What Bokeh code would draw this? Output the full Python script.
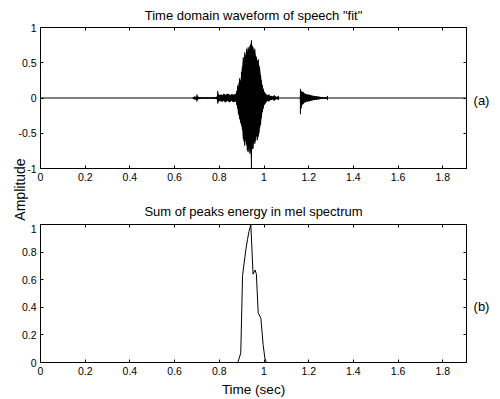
import numpy as np
from bokeh.plotting import figure
from bokeh.models import Range1d, LinearAxis, FixedTicker, Label, Span, ColumnDataSource
from bokeh.layouts import column
from bokeh.embed import file_html
from bokeh.resources import INLINE

FONT = "Liberation Sans"

# ---------------- data ----------------
t_max = 1.906
x_ticks = [0, 0.2, 0.4, 0.6, 0.8, 1.0, 1.2, 1.4, 1.6, 1.8]
x_tick_labels = ["0", "0.2", "0.4", "0.6", "0.8", "1", "1.2", "1.4", "1.6", "1.8"]
wave_y_ticks = [-1, -0.5, 0, 0.5, 1]
wave_y_tick_labels = ["-1", "-0.5", "0", "0.5", "1"]
energy_y_ticks = [0, 0.2, 0.4, 0.6, 0.8, 1]
energy_y_tick_labels = ["0", "0.2", "0.4", "0.6", "0.8", "1"]

# waveform envelope (time in s, upper / lower amplitude)
env_t = [0.000, 0.680, 0.684, 0.690, 0.696, 0.700, 0.703, 0.710, 0.718, 0.730,
         0.745, 0.760, 0.775, 0.786, 0.790, 0.793, 0.797, 0.802, 0.808, 0.814,
         0.820, 0.826, 0.832, 0.838, 0.844, 0.850, 0.856, 0.862, 0.868, 0.874,
         0.878, 0.882, 0.885, 0.888, 0.891, 0.895, 0.899, 0.903, 0.907, 0.911,
         0.914, 0.918, 0.922, 0.925, 0.929, 0.933, 0.937, 0.940, 0.9435, 0.947,
         0.951, 0.955, 0.959, 0.963, 0.966, 0.970, 0.974, 0.978, 0.981, 0.985,
         0.989, 0.993, 0.997, 1.001, 1.005, 1.010, 1.016, 1.022, 1.028, 1.034,
         1.040, 1.046, 1.052, 1.058, 1.064, 1.068, 1.160, 1.163, 1.166, 1.170,
         1.176, 1.184, 1.194, 1.204, 1.214, 1.224, 1.234, 1.244, 1.254, 1.264,
         1.274, 1.280, 1.284, 1.287, 1.906]
env_hi = [0, 0, 0.015, 0.02, 0.015, 0.05, 0.02, 0.015, 0.012, 0.01,
          0.012, 0.01, 0.012, 0.015, 0.02, 0.10, 0.05, 0.04, 0.05, 0.04,
          0.06, 0.045, 0.05, 0.06, 0.05, 0.04, 0.055, 0.045, 0.05, 0.06,
          0.10, 0.18, 0.15, 0.22, 0.28, 0.24, 0.37, 0.45, 0.58, 0.52,
          0.65, 0.60, 0.70, 0.66, 0.72, 0.68, 0.74, 0.76, 0.82, 0.74,
          0.72, 0.66, 0.70, 0.60, 0.58, 0.52, 0.55, 0.46, 0.42, 0.33,
          0.25, 0.18, 0.13, 0.09, 0.07, 0.05, 0.04, 0.05, 0.03, 0.03,
          0.02, 0.04, 0.02, 0.015, 0.03, 0, 0, 0.13, 0.10, 0.09,
          0.08, 0.06, 0.05, 0.045, 0.035, 0.03, 0.025, 0.02, 0.015, 0.012,
          0.01, 0.01, 0.03, 0, 0]
env_lo = [0, 0, -0.015, -0.02, -0.02, -0.05, -0.02, -0.015, -0.012, -0.01,
          -0.012, -0.01, -0.012, -0.015, -0.02, -0.08, -0.05, -0.04, -0.05, -0.05,
          -0.04, -0.06, -0.05, -0.04, -0.06, -0.05, -0.04, -0.06, -0.05, -0.05,
          -0.10, -0.15, -0.22, -0.25, -0.30, -0.35, -0.39, -0.45, -0.58, -0.62,
          -0.68, -0.60, -0.66, -0.74, -0.77, -0.70, -0.79, -0.75, -1.0, -0.72,
          -0.72, -0.62, -0.65, -0.60, -0.53, -0.60, -0.55, -0.50, -0.42, -0.38,
          -0.28, -0.20, -0.15, -0.10, -0.08, -0.06, -0.04, -0.05, -0.03, -0.03,
          -0.02, -0.04, -0.02, -0.015, -0.03, 0, 0, -0.23, -0.15, -0.10,
          -0.08, -0.06, -0.05, -0.045, -0.035, -0.03, -0.025, -0.02, -0.015, -0.012,
          -0.01, -0.01, -0.03, 0, 0]

# sum of peaks energy in mel spectrum
energy_t = [0.0, 0.882, 0.889, 0.896, 0.904, 0.911, 0.919, 0.926, 0.933, 0.941,
            0.951, 0.960, 0.966, 0.974, 0.986, 0.996, 1.004, 1.011, 1.906]
energy_v = [0.0, 0.0, 0.03, 0.07, 0.63, 0.72, 0.82, 0.89, 0.95, 1.0,
            0.64, 0.67, 0.64, 0.36, 0.32, 0.13, 0.03, 0.0, 0.0]

# ---------------- helpers ----------------
def style(p, yticks, ylabels, standoff):
    p.grid.visible = False
    p.outline_line_color = "black"
    p.outline_line_width = 1
    p.background_fill_color = "white"
    p.border_fill_color = "white"
    xa, ya = p.below[0], p.left[0]
    for ax, ticks, labels in ((xa, x_ticks, x_tick_labels), (ya, yticks, ylabels)):
        ax.ticker = FixedTicker(ticks=ticks)
        ax.major_label_overrides = {float(k): v for k, v in zip(ticks, labels)}
        ax.major_tick_in = 3
        ax.major_tick_out = 0
        ax.minor_tick_line_color = None
        ax.axis_line_color = "black"
        ax.major_tick_line_color = "black"
        ax.major_label_text_font = FONT
        ax.major_label_text_font_size = "10.5px"
        ax.major_label_text_color = "black"
        ax.major_label_standoff = 4
    xa.major_label_standoff = standoff
    # tick marks on the top and right sides of the box (no labels there)
    for loc, ticks in (("above", x_ticks), ("right", yticks)):
        ax = LinearAxis(ticker=FixedTicker(ticks=ticks), major_tick_in=3, major_tick_out=0,
                        minor_tick_line_color=None, axis_line_color="black",
                        major_tick_line_color="black", major_label_text_font_size="0px",
                        major_label_text_color=None, major_label_standoff=0)
        p.add_layout(ax, loc)
    return xa


def text(p, side, x, y, s, size="13px", align="center", angle=0.0):
    p.add_layout(Label(x=x, y=y, x_units="screen", y_units="screen", text=s,
                       text_font=FONT, text_font_size=size, text_color="black",
                       text_align=align, text_baseline="middle", angle=angle), side)

# ---------------- (a) waveform ----------------
pa = figure(width=500, height=224, min_border_left=40, min_border_right=34,
            min_border_top=27, min_border_bottom=56, x_range=Range1d(0, t_max),
            y_range=Range1d(-1, 1), toolbar_location=None, output_backend="svg", title=None)
style(pa, wave_y_ticks, wave_y_tick_labels, 4)
src = ColumnDataSource(dict(t=env_t, hi=env_hi, lo=env_lo))
pa.add_layout(Span(location=0, dimension="width", line_color="black", line_width=1))
pa.varea(x="t", y1="lo", y2="hi", source=src, fill_color="black")
pa.segment(x0="t", y0="lo", x1="t", y1="hi", source=src, line_color="black", line_width=1)

text(pa, "above", 213, 12.3, 'Time domain waveform of speech "fit"')
text(pa, "below", 213, -12.5, "Sum of peaks energy in mel spectrum")
text(pa, "below", 441, 113, "(a)")
text(pa, "right", -447, -21, "Amplitude", size="14px", angle=np.pi / 2)

# ---------------- (b) energy ----------------
pb = figure(width=500, height=175, min_border_left=40, min_border_right=34,
            min_border_top=0, min_border_bottom=35, x_range=Range1d(0, t_max),
            y_range=Range1d(0, 1), toolbar_location=None, output_backend="svg", title=None)
xb = style(pb, energy_y_ticks, energy_y_tick_labels, 4)
pb.line(energy_t, energy_v, line_color="black", line_width=1)
xb.axis_label = "Time (sec)"
xb.axis_label_text_font = FONT
xb.axis_label_text_font_size = "13.5px"
xb.axis_label_text_font_style = "normal"
xb.axis_label_text_color = "black"
xb.axis_label_standoff = 4
text(pb, "right", 15, 56.5, "(b)")

layout = column(pa, pb, spacing=0)
open("out.html", "w").write(file_html(layout, INLINE))
